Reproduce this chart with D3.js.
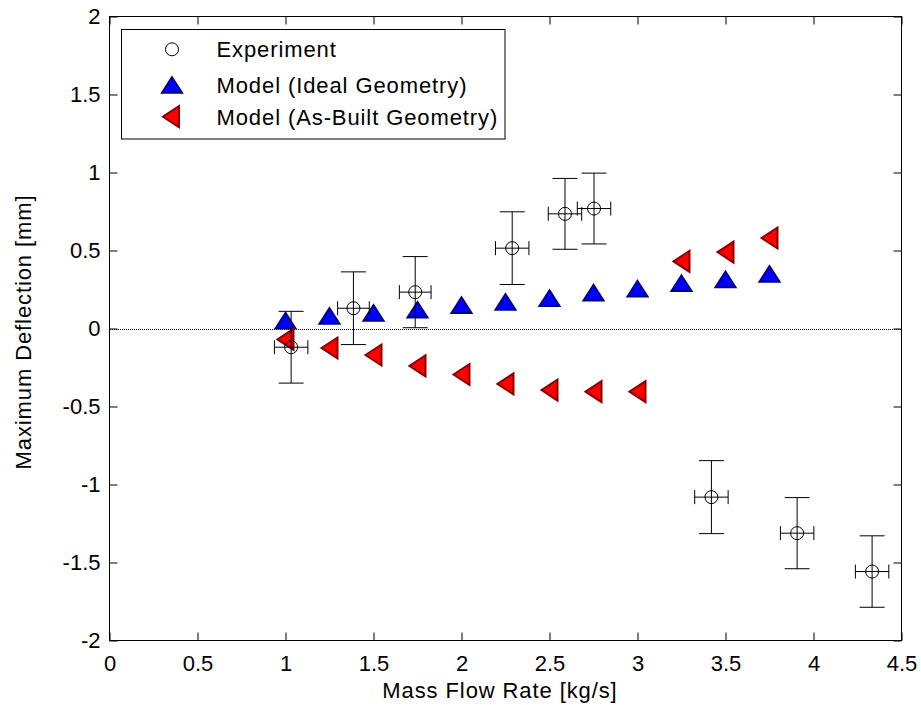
<!DOCTYPE html>
<html>
<head>
<meta charset="utf-8">
<script src="https://cdn.jsdelivr.net/npm/d3@7"></script>
<style>
  html, body { margin: 0; padding: 0; background: #fff; }
  svg { display: block; font-family: "Liberation Sans", Arial, Helvetica, sans-serif; }
</style>
</head>
<body>
<svg id="chart" width="921" height="705"></svg>
<script>
// ---------- data ----------
const xTicks = [0, 0.5, 1, 1.5, 2, 2.5, 3, 3.5, 4, 4.5];
const xTickLabels = ["0", "0.5", "1", "1.5", "2", "2.5", "3", "3.5", "4", "4.5"];
const yTicks = [-2, -1.5, -1, -0.5, 0, 0.5, 1, 1.5, 2];
const yTickLabels = ["-2", "-1.5", "-1", "-0.5", "0", "0.5", "1", "1.5", "2"];

const expX    = [1.032, 1.386, 1.737, 2.288, 2.588, 2.753, 3.420, 3.907, 4.333];
const expY    = [-0.12, 0.13, 0.233, 0.515, 0.735, 0.769, -1.081, -1.312, -1.558];
const expXErr = [0.095, 0.09, 0.09, 0.095, 0.095, 0.095, 0.095, 0.095, 0.095];
const expYErr = [0.23, 0.233, 0.228, 0.233, 0.227, 0.227, 0.234, 0.228, 0.229];

const modelX      = [1.0, 1.25, 1.5, 1.75, 2.0, 2.25, 2.5, 2.75, 3.0, 3.25, 3.5, 3.75];
const idealY      = [0.05, 0.08, 0.10, 0.12, 0.15, 0.17, 0.195, 0.23, 0.255, 0.29, 0.315, 0.35];
const asBuiltY    = [-0.07, -0.125, -0.17, -0.24, -0.295, -0.355, -0.395, -0.405, -0.405, 0.43, 0.49, 0.58];

const legendLabels = ["Experiment", "Model (Ideal Geometry)", "Model (As-Built Geometry)"];
const xLabel = "Mass Flow Rate [kg/s]";
const yLabel = "Maximum Deflection [mm]";

// ---------- layout ----------
const svg = d3.select("#chart");
const L = 109.5, R = 901.5, T = 16.5, B = 640.5;
const x = d3.scaleLinear().domain([0, 4.5]).range([L, R]);
const y = d3.scaleLinear().domain([-2, 2]).range([B, T]);
const FS = 22;

// ---------- axes ----------
const fmtX = d => xTickLabels[xTicks.indexOf(d)];
const fmtY = d => yTickLabels[yTicks.indexOf(d)];

const gB = svg.append("g").attr("transform", `translate(0,${B})`)
  .call(d3.axisBottom(x).tickValues(xTicks).tickFormat(fmtX).tickSizeInner(-8).tickSizeOuter(0).tickPadding(15));
const gL = svg.append("g").attr("transform", `translate(${L},0)`)
  .call(d3.axisLeft(y).tickValues(yTicks).tickFormat(fmtY).tickSizeInner(-8).tickSizeOuter(0).tickPadding(9));
const gT = svg.append("g").attr("transform", `translate(0,${T})`)
  .call(d3.axisTop(x).tickValues(xTicks).tickFormat("").tickSizeInner(-8).tickSizeOuter(0));
const gR = svg.append("g").attr("transform", `translate(${R},0)`)
  .call(d3.axisRight(y).tickValues(yTicks).tickFormat("").tickSizeInner(-8).tickSizeOuter(0));

[gB, gL, gT, gR].forEach(g => {
  g.select(".domain").remove();
  g.selectAll("line").attr("stroke", "#000").attr("stroke-width", 1);
  g.selectAll("text").attr("font-size", FS).attr("fill", "#000")
    .attr("font-family", "'Liberation Sans', Arial, sans-serif");
});

// box
svg.append("rect").attr("x", L).attr("y", T).attr("width", R - L).attr("height", B - T)
  .attr("fill", "none").attr("stroke", "#000").attr("stroke-width", 1);

// zero dotted line
const y0 = Math.round(y(0)) + 0.5;
svg.append("line").attr("x1", L).attr("x2", R).attr("y1", y0).attr("y2", y0)
  .attr("stroke", "#000").attr("stroke-width", 1).attr("stroke-dasharray", "1,1")
  .attr("shape-rendering", "crispEdges");

// axis labels
svg.append("text").attr("x", 500).attr("y", 698).attr("text-anchor", "middle")
  .attr("font-size", FS).attr("letter-spacing", 0.9).text(xLabel);
svg.append("text").attr("transform", "translate(31,332) rotate(-90)").attr("text-anchor", "middle")
  .attr("font-size", FS).attr("letter-spacing", 0.9).text(yLabel);

// ---------- markers ----------
const triUp = "M0,-7.8 L10,7.8 L-10,7.8 Z";
const triLeft = "M-8,0 L8,-10.5 L8,10.5 Z";
const blueFill = "#0000ff", blueEdge = "#00008b";
const redFill = "#ff0000", redEdge = "#8b0000";

const plot = svg.append("g");

// Ideal geometry (blue up triangles)
plot.selectAll("path.ideal").data(modelX).enter().append("path")
  .attr("class", "ideal").attr("d", triUp)
  .attr("transform", (d, i) => `translate(${x(d)},${y(idealY[i])})`)
  .attr("fill", blueFill).attr("stroke", blueEdge).attr("stroke-width", 2);

// As-built geometry (red left triangles)
plot.selectAll("path.asbuilt").data(modelX).enter().append("path")
  .attr("class", "asbuilt").attr("d", triLeft)
  .attr("transform", (d, i) => `translate(${x(d)},${y(asBuiltY[i])})`)
  .attr("fill", redFill).attr("stroke", redEdge).attr("stroke-width", 2);

// Experiment with error bars
const eg = plot.selectAll("g.exp").data(expX).enter().append("g").attr("class", "exp");
eg.each(function(d, i) {
  const g = d3.select(this);
  const cx = x(d), cy = y(expY[i]);
  const y1 = y(expY[i] - expYErr[i]), y2 = y(expY[i] + expYErr[i]);
  const x1 = x(d - expXErr[i]), x2 = x(d + expXErr[i]);
  const capW = 12.5, capH = 7;
  const segs = [
    [cx, y1, cx, y2], [cx - capW, y1, cx + capW, y1], [cx - capW, y2, cx + capW, y2],
    [x1, cy, x2, cy], [x1, cy - capH, x1, cy + capH], [x2, cy - capH, x2, cy + capH]
  ];
  segs.forEach(s => g.append("line").attr("x1", s[0]).attr("y1", s[1]).attr("x2", s[2]).attr("y2", s[3])
    .attr("stroke", "#000").attr("stroke-width", 1));
  g.append("circle").attr("cx", cx).attr("cy", cy).attr("r", 6.5)
    .attr("fill", "none").attr("stroke", "#000").attr("stroke-width", 1);
});

// ---------- legend ----------
const lg = svg.append("g");
lg.append("rect").attr("x", 121.5).attr("y", 29.5).attr("width", 383.5).attr("height", 109.5)
  .attr("fill", "#fff").attr("stroke", "#000").attr("stroke-width", 1);
const rowY = [49.3, 85, 116.7];
lg.append("circle").attr("cx", 172).attr("cy", rowY[0]).attr("r", 6.5)
  .attr("fill", "none").attr("stroke", "#000").attr("stroke-width", 1);
lg.append("path").attr("d", triUp).attr("transform", `translate(172,${rowY[1]})`)
  .attr("fill", blueFill).attr("stroke", blueEdge).attr("stroke-width", 2);
lg.append("path").attr("d", triLeft).attr("transform", `translate(171,${rowY[2]})`)
  .attr("fill", redFill).attr("stroke", redEdge).attr("stroke-width", 2);
lg.selectAll("text.leg").data(legendLabels).enter().append("text").attr("class", "leg")
  .attr("x", 216.5).attr("y", (d, i) => rowY[i] + 8)
  .attr("font-size", FS).attr("letter-spacing", 0.9).text(d => d);
</script>
</body>
</html>
